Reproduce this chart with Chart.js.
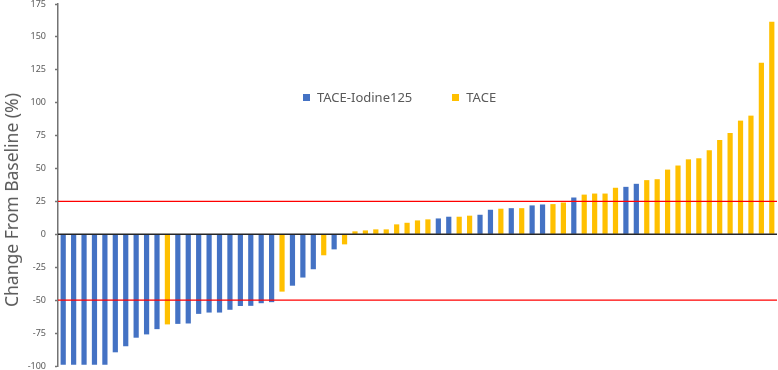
<!DOCTYPE html>
<html>
<head>
<meta charset="utf-8">
<script src="https://cdn.jsdelivr.net/npm/chart.js@4/dist/chart.umd.min.js"></script>
<style>
  html, body { margin: 0; padding: 0; background: #fff; }
  #wrap { position: relative; width: 778px; height: 370px; }
  #legend {
    position: absolute; left: 303px; top: 88px;
    font: 13px "Noto Sans", sans-serif; color: #595959;
    display: flex; align-items: center; white-space: nowrap;
  }
  #legend .sw { display: inline-block; width: 7px; height: 7px; margin-right: 7px; }
  #legend .item { display: flex; align-items: center; }
  #ytitle {
    position: absolute; left: 11px; top: 200px;
    transform: translate(-50%, -50%) rotate(-90deg);
    font: 17.5px "Noto Sans", sans-serif; color: #595959; white-space: nowrap;
  }
</style>
</head>
<body>
<div id="wrap">
  <canvas id="waterfall" width="778" height="370"></canvas>
  <div id="legend"></div>
  <div id="ytitle"></div>
</div>
<script>
// patients sorted by change from baseline
const patients = Array.from({ length: 69 }, (_, i) => "P" + (i + 1));

const change = [
  -99, -99, -99, -99, -99, -89.6, -85, -78.5, -76, -72,
  -68.4, -68, -67.7, -60.4, -59.4, -59.4, -57.3, -54.4, -54.3, -52.3,
  -51.5, -43.5, -39, -32.8, -26.5, -15.9, -11.4, -7.6, 2.3, 3,
  3.8, 3.8, 7.6, 8.8, 10.6, 11.4, 12.1, 13.4, 13.4, 14.2,
  14.9, 18.7, 19.5, 19.9, 19.9, 22, 22.7, 23, 24.2, 28,
  30.2, 31, 31, 35.4, 36.1, 38.4, 41.2, 41.9, 49.2, 52.3,
  57, 57.8, 63.9, 71.7, 77, 86.4, 90.2, 130.3, 161.6
];

// I = TACE-Iodine125, T = TACE
const arm = (
  "IIIIIIIIII" + "T" + "IIIIIIIIII" + "T" + "III" + "T" + "I" +
  "TTTTTTTTT" + "II" + "TT" + "II" + "T" + "I" + "T" + "II" + "TT" +
  "I" + "TTTT" + "II" + "TTTTTTTTTTTTT"
).split("");

const armNames = ["TACE-Iodine125", "TACE"];
const armKeys = ["I", "T"];
const armColors = ["#4472C4", "#FFC000"];

const yTicks = [-100, -75, -50, -25, 0, 25, 50, 75, 100, 125, 150, 175];
const thresholds = [25, -50];
const yTitle = "Change From Baseline (%)";

const textColor = "#595959";

const datasets = armKeys.map((k, j) => ({
  label: armNames[j],
  data: change.map((v, i) => (arm[i] === k ? v : null)),
  backgroundColor: armColors[j],
  barPercentage: 0.5,
  categoryPercentage: 1.0
}));

// zero line and red reference lines, on top of the bars
const refLines = {
  id: "refLines",
  afterDatasetsDraw(chart) {
    const { ctx, chartArea, scales } = chart;
    const y = scales.y;
    ctx.save();
    ctx.lineWidth = 1.5;
    ctx.strokeStyle = "#262626";
    const y0 = y.getPixelForValue(0);
    ctx.beginPath();
    ctx.moveTo(chartArea.left, y0);
    ctx.lineTo(chartArea.right, y0);
    ctx.stroke();
    ctx.lineWidth = 1.2;
    ctx.strokeStyle = "#FF0000";
    thresholds.forEach(t => {
      const py = y.getPixelForValue(t);
      ctx.beginPath();
      ctx.moveTo(chartArea.left, py);
      ctx.lineTo(chartArea.right, py);
      ctx.stroke();
    });
    ctx.restore();
  }
};

new Chart(document.getElementById("waterfall"), {
  type: "bar",
  data: { labels: patients, datasets: datasets },
  options: {
    responsive: false,
    animation: false,
    layout: { padding: { top: 4, bottom: 4, right: 1, left: 0 } },
    plugins: {
      legend: { display: false },
      tooltip: { enabled: false }
    },
    scales: {
      x: {
        display: false,
        stacked: true
      },
      y: {
        min: -100,
        max: 175,
        afterBuildTicks: (scale) => {
          scale.ticks = yTicks.map(v => ({ value: v }));
        },
        afterFit: (scale) => {
          scale.width = 58;
          scale.paddingTop = 0;
          scale.paddingBottom = 0;
        },
        ticks: {
          color: textColor,
          font: { family: "Noto Sans", size: 9 },
          padding: 9
        },
        grid: {
          drawOnChartArea: false,
          drawTicks: true,
          tickLength: 3,
          tickColor: "#737373",
          tickWidth: 1.5
        },
        border: { color: "#737373", width: 1.5 }
      }
    }
  },
  plugins: [refLines]
});

document.getElementById("ytitle").textContent = yTitle;

// legend inside the plot
const legend = document.getElementById("legend");
armNames.forEach((name, j) => {
  const item = document.createElement("span");
  item.className = "item";
  if (j > 0) item.style.marginLeft = "40px";
  item.innerHTML = '<span class="sw" style="background:' + armColors[j] + '"></span>' + name;
  legend.appendChild(item);
});
</script>
</body>
</html>
